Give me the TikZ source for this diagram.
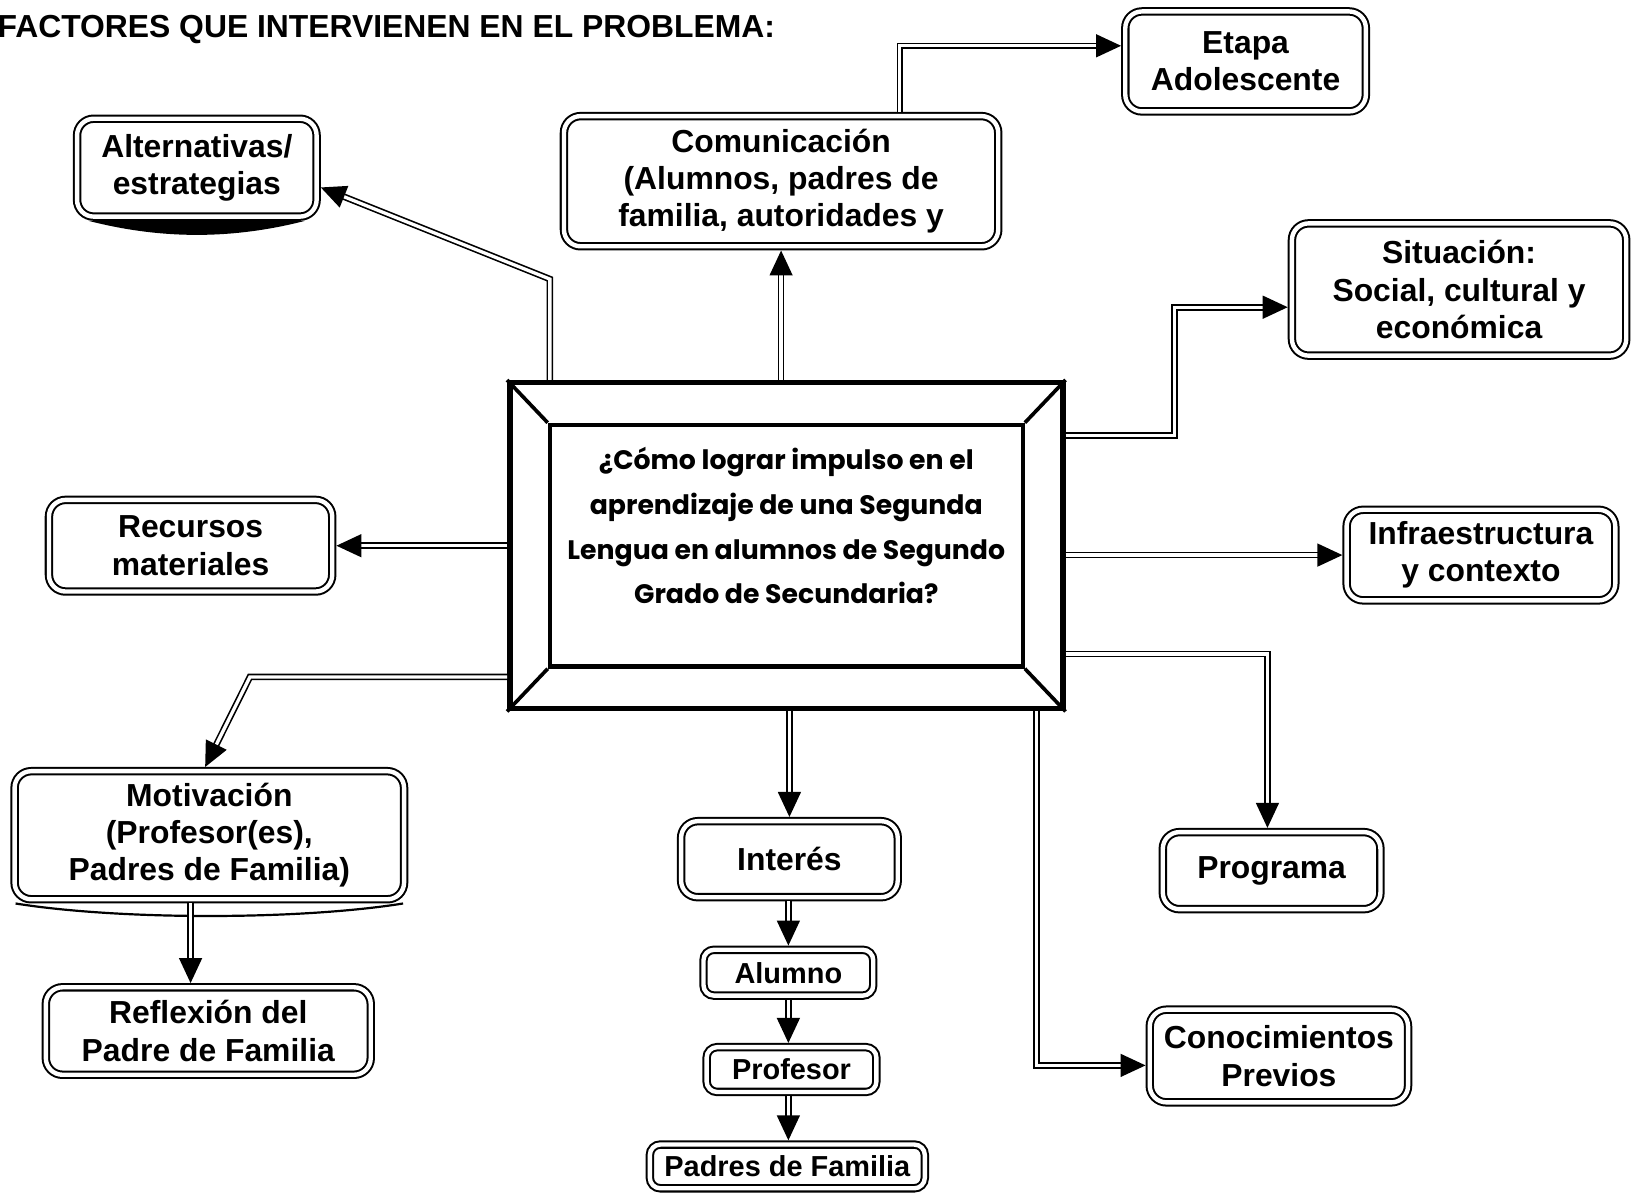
\documentclass[tikz,border=0pt]{standalone}
\usepackage{fontspec}
\setmainfont{Liberation Sans}
\newfontfamily\comicfont{Poppins}
\usetikzlibrary{arrows.meta}

\tikzset{
  factor/.style={draw, double, double distance=1.2pt, line width=0.55pt, outer sep=1.15pt,
    rounded corners=1.6mm, align=center, inner sep=1pt,
    font=\fontsize{8.7}{10.2}\selectfont\bfseries},
  chico/.style={factor, rounded corners=1mm, font=\fontsize{7.9}{9}\selectfont\bfseries},
  enlace/.style={double, double distance=0.9pt, line width=0.45pt,
    -{Triangle[length=2.4mm, width=2.2mm]}},
  marco/.style={draw, line width=1.5pt, inner sep=0pt},
}

\begin{document}
\begin{tikzpicture}[x=0.1mm, y=-0.1mm]
  \useasboundingbox (0,0) rectangle (1568,1146);
  \node[anchor=west, inner sep=0pt, font=\fontsize{8.7}{10}\selectfont\bfseries] (titulo) at (-3,28)
    {FACTORES QUE INTERVIENEN EN EL PROBLEMA:};

  % pregunta central
  \node[marco, minimum width=53.1mm, minimum height=31.3mm] (pregunta) at (755,524) {};
  \node[marco, line width=1.2pt, minimum width=45.4mm, minimum height=23.2mm] (interior) at (755,524) {};
  \foreach \esq in {north west, north east, south west, south east}
    \draw[line width=1pt] (pregunta.\esq) -- (interior.\esq);
  \node[align=center, font=\comicfont\bfseries\fontsize{7.3}{12.2}\selectfont] (textopregunta) at (755,505)
    {¿Cómo lograr impulso en el\\aprendizaje de una Segunda\\Lengua en alumnos de Segundo\\Grado de Secundaria?};

  % factores
  \node[factor, minimum width=23mm, minimum height=9.4mm] (alternativas) at (189,161) {Alternativas/\\estrategias};
  \node[factor, minimum width=41.7mm, minimum height=12.5mm] (comunicacion) at (750,174)
    {Comunicación\\(Alumnos, padres de\\familia, autoridades y};
  \node[factor, minimum width=23.1mm, minimum height=9.6mm] (etapa) at (1196,59) {Etapa\\Adolescente};
  \node[factor, minimum width=32.1mm, minimum height=12.7mm] (situacion) at (1401,278)
    {Situación:\\Social, cultural y\\económica};
  \node[factor, minimum width=25.8mm, minimum height=8.7mm] (infra) at (1422,533) {Infraestructura\\y contexto};
  \node[factor, minimum width=27.2mm, minimum height=8.8mm] (recursos) at (183,524) {Recursos\\materiales};
  \node[factor, minimum width=37.4mm, minimum height=12.3mm] (motivacion) at (201,802)
    {Motivación\\(Profesor(es),\\Padres de Familia)};
  \node[factor, minimum width=31.2mm, minimum height=8.4mm] (reflexion) at (200,990) {Reflexión del\\Padre de Familia};
  \node[factor, minimum width=20.8mm, minimum height=7.3mm] (interes) at (758,825) {Interés};
  \node[chico, minimum width=16.3mm, minimum height=4.4mm] (alumno) at (757,934) {Alumno};
  \node[chico, minimum width=16.3mm, minimum height=4.3mm] (profesor) at (760,1027) {Profesor};
  \node[chico, minimum width=26.4mm, minimum height=4.2mm] (padres) at (756,1120) {Padres de Familia};
  \node[factor, minimum width=20.9mm, minimum height=7.4mm] (programa) at (1221,836) {Programa};
  \node[factor, minimum width=24.8mm, minimum height=8.9mm] (conocimientos) at (1228,1014) {Conocimientos\\Previos};

  % bordes inferiores
  \fill ([xshift=1.5mm]alternativas.south west) .. controls +(7mm,-1.8mm) and +(-7mm,-1.8mm)
    .. ([xshift=-1.5mm]alternativas.south east) -- cycle;
  \draw[line width=0.6pt] ([xshift=0.5mm]motivacion.south west) .. controls +(10mm,-1.6mm) and +(-10mm,-1.6mm)
    .. ([xshift=-0.5mm]motivacion.south east);

  % codos
  \coordinate (codoA) at (528,268);
  \coordinate (codoE) at (864,44);
  \coordinate (codoS1) at (1128,418);
  \coordinate (codoS2) at (1128,295);
  \coordinate (codoP) at (1217,628);
  \coordinate (codoC) at (995,1023);
  \coordinate (codoM) at (240,650);

  % enlaces
  \draw[enlace] (pregunta.north -| codoA) -- (codoA) -- ([yshift=-1.9mm]alternativas.east);
  \draw[enlace] (pregunta.north -| comunicacion.south) -- (comunicacion.south);
  \draw[enlace] (comunicacion.north -| codoE) -- (codoE) -- (etapa.west |- codoE);
  \draw[enlace] (pregunta.east |- codoS1) -- (codoS1) -- (codoS2) -- (situacion.west |- codoS2);
  \draw[enlace] (pregunta.east |- infra.west) -- (infra.west);
  \draw[enlace] (pregunta.east |- codoP) -- (codoP) -- (programa.north -| codoP);
  \draw[enlace] (pregunta.south -| codoC) -- (codoC) -- (conocimientos.west |- codoC);
  \draw[enlace] (pregunta.south -| interes.north) -- (interes.north);
  \draw[enlace] (interes.south -| alumno.north) -- (alumno.north);
  \draw[enlace] (alumno.south) -- (alumno.south |- profesor.north);
  \draw[enlace] (alumno.south |- profesor.south) -- (alumno.south |- padres.north);
  \draw[enlace] (pregunta.west |- recursos.east) -- (recursos.east);
  \draw[enlace] (pregunta.west |- codoM) -- (codoM) -- ([xshift=-0.4mm]motivacion.north);
  \draw[enlace] ([xshift=-1.8mm]motivacion.south) -- ([xshift=-1.8mm]motivacion.south |- reflexion.north);
\end{tikzpicture}
\end{document}
